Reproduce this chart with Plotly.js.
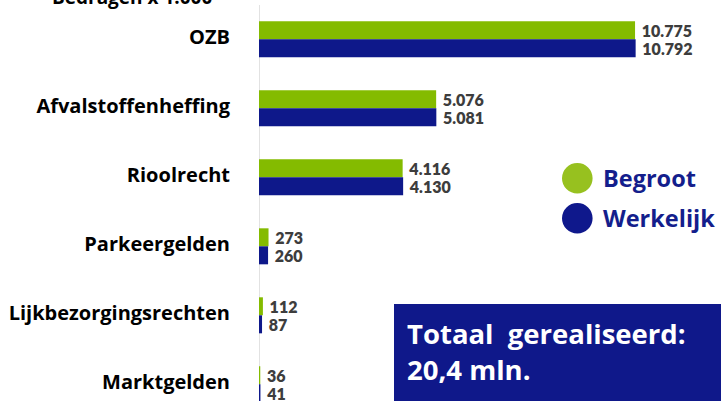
<!DOCTYPE html>
<html>
<head>
<meta charset="utf-8">
<script src="https://cdn.plot.ly/plotly-3.0.1.min.js"></script>
<style>
html,body{margin:0;padding:0;background:#fff;}
#chart{width:721px;height:401px;}
</style>
</head>
<body>
<div id="chart"></div>
<script>
var categories = ['OZB', 'Afvalstoffenheffing', 'Rioolrecht', 'Parkeergelden', 'Lijkbezorgingsrechten', 'Marktgelden'];
var begroot = [10775, 5076, 4116, 273, 112, 36];
var werkelijk = [10792, 5081, 4130, 260, 87, 41];
var seriesNames = ['Begroot', 'Werkelijk'];
var titleText = 'Bedragen x 1.000';
var boxText = 'Totaal&nbsp;&nbsp;gerealiseerd:<br>20,4 mln.';

var GREEN = '#84bb00';
var NAVY = '#0e188a';
var W = 721, H = 401, L = 259;
var PW = W - L;
var scale = 0.0349; // px per unit
function px(xp){ return (xp - L) / PW; }
function py(yp){ return 1 - yp / H; }

var labelFont = {family: 'Lato', size: 16, color: '#3d3d3d', weight: 800};

var traces = [
  {type: 'bar', orientation: 'h', name: seriesNames[0], y: categories, x: begroot,
   marker: {color: GREEN}, text: begroot, texttemplate: '\u00a0%{x:,}',
   textposition: 'outside', cliponaxis: false, constraintext: 'none', textfont: labelFont,
   hoverinfo: 'skip'},
  {type: 'bar', orientation: 'h', name: seriesNames[1], y: categories, x: werkelijk,
   marker: {color: NAVY}, text: werkelijk, texttemplate: '\u00a0%{x:,}',
   textposition: 'outside', cliponaxis: false, constraintext: 'none', textfont: labelFont,
   hoverinfo: 'skip'}
];

var r = 15.3;
var layout = {
  width: W, height: H,
  margin: {l: L, r: 0, t: 0, b: 0, pad: 0},
  paper_bgcolor: '#ffffff', plot_bgcolor: '#ffffff',
  separators: ',.',
  showlegend: false,
  barmode: 'group', bargap: 0.478, bargroupgap: 0,
  font: {family: 'Lato', color: '#000'},
  xaxis: {range: [0, PW / scale], visible: false, fixedrange: true},
  yaxis: {type: 'category', categoryorder: 'array', categoryarray: categories,
          range: [5.242, -0.570], showgrid: false, zeroline: false, showline: false,
          ticks: '', ticklabelstandoff: 28, ticklabelshift: 2,
          tickfont: {family: 'Open Sans', size: 20, color: '#000', weight: 700}},
  shapes: [
    {type: 'line', xref: 'x', yref: 'paper', x0: 0, x1: 0, y0: -0.02, y1: py(5),
     line: {color: '#d9d9d9', width: 1.5}, layer: 'below'},
    {type: 'circle', xref: 'paper', yref: 'paper', x0: px(577.3 - r), x1: px(577.3 + r),
     y0: py(178.3 + r), y1: py(178.3 - r), fillcolor: '#97c11f', line: {width: 0}},
    {type: 'circle', xref: 'paper', yref: 'paper', x0: px(577.3 - r), x1: px(577.3 + r),
     y0: py(218.3 + r), y1: py(218.3 - r), fillcolor: '#0f188c', line: {width: 0}},
    {type: 'rect', xref: 'paper', yref: 'paper', x0: px(394), x1: 1.01,
     y0: -0.05, y1: py(304), fillcolor: '#0f188a', line: {width: 0}}
  ],
  annotations: [
    {xref: 'paper', yref: 'paper', x: px(131.5), y: py(-3), xanchor: 'center', yanchor: 'middle',
     text: titleText, showarrow: false, font: {family: 'Open Sans', size: 19, color: '#000', weight: 700}},
    {xref: 'paper', yref: 'paper', x: px(601), y: py(178), xanchor: 'left', yanchor: 'middle',
     text: seriesNames[0], showarrow: false, font: {family: 'Open Sans', size: 23.5, color: '#141e8c', weight: 700}},
    {xref: 'paper', yref: 'paper', x: px(601), y: py(218), xanchor: 'left', yanchor: 'middle',
     text: seriesNames[1], showarrow: false, font: {family: 'Open Sans', size: 23.5, color: '#141e8c', weight: 700}},
    {xref: 'paper', yref: 'paper', x: px(405), y: py(351), xanchor: 'left', yanchor: 'middle',
     align: 'left', text: boxText, showarrow: false,
     font: {family: 'Open Sans', size: 27.5, color: '#ffffff', weight: 700}}
  ]
};

Plotly.newPlot('chart', traces, layout, {displayModeBar: false, staticPlot: true});
</script>
</body>
</html>
